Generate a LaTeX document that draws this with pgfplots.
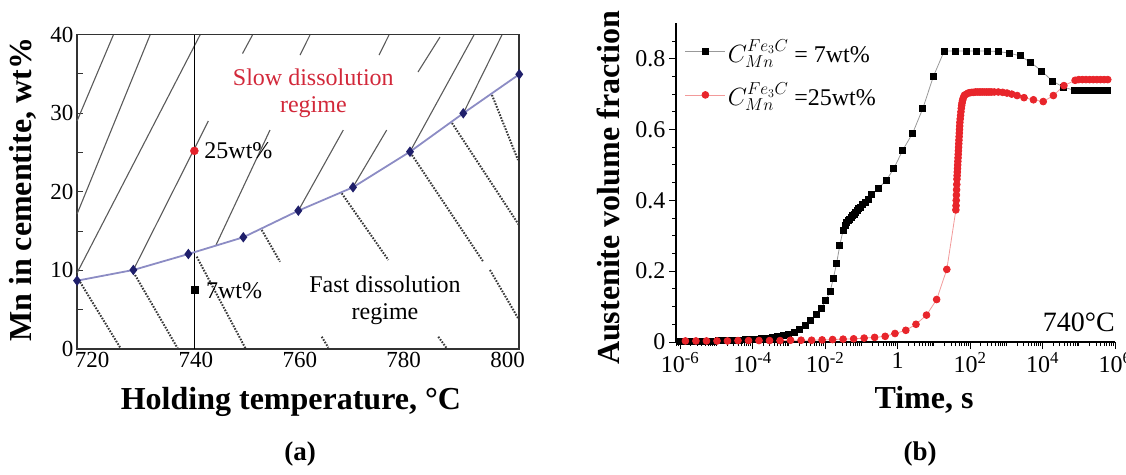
\documentclass[border=0pt]{standalone}
\usepackage{fontspec}
\setmainfont{Liberation Serif}
\usepackage{pgfplots}
\pgfplotsset{compat=1.18}
\definecolor{curvecol}{HTML}{8C8CC4}
\definecolor{diamcol}{HTML}{1F1F6B}
\definecolor{slowred}{HTML}{D2283A}
\definecolor{ptred}{HTML}{E3222B}
\definecolor{hatchc}{HTML}{5A5A5A}
\definecolor{dotc}{HTML}{383838}
\definecolor{mred}{HTML}{E8252B}
\definecolor{lred}{HTML}{F29A9A}
\pgfplotsset{
 hs/.style={hatchc, line width=1.1pt, no marks},
 hd/.style={dotc, line width=2pt, dash pattern=on 1.6pt off 1.4pt, no marks},
}
\begin{document}
\begin{tikzpicture}
\path[use as bounding box] (0,0) rectangle (1126pt,474pt);
% ---------------- panel (a) ----------------
\begin{axis}[
 at={(77pt,125pt)}, anchor=south west, width=442pt, height=314.5pt, scale only axis,
 xmin=717.1, xmax=802.2, ymin=0, ymax=40,
 xtick={720,740,760,780,800}, ytick={0,10,20,30,40}, minor ytick={5,15,25,35},
 ytick pos=left, xtick pos=bottom, tick align=inside,
 major tick length=6pt, minor tick length=6pt,
 x tick style={draw=none},
 y tick style={line width=1pt, color=black!80},
 axis line style={line width=1.6pt, color=black!80},
 ticklabel style={font=\fontsize{23}{25}\selectfont},
 /pgf/number format/assume math mode=true,
 xlabel={Holding temperature, °C}, ylabel={Mn in cementite, wt\%},
 label style={font=\fontsize{32}{36}\selectfont\bfseries},
 xlabel style={at={(axis description cs:0.484,-0.168)}, anchor=center},
 ylabel style={at={(axis description cs:-0.122,0.506)}, anchor=center},
 clip=false,
]
% solid hatch (slow regime)
\addplot[hs] coordinates {(724.10,39.94)(717.11,29.0)};
\addplot[hs] coordinates {(731.17,39.94)(717.11,17.17)};
\addplot[hs] coordinates {(740.79,39.94)(717.11,9.67)};
\addplot[hs] coordinates {(727.95,10.05)(742.39,29.0)};
\addplot[hs] coordinates {(743.87,13.23)(754.26,27.85)};
\addplot[hs] coordinates {(759.71,17.59)(768.37,27.85)};
\addplot[hs] coordinates {(770.24,20.60)(776.73,27.85)};
\addplot[hs] coordinates {(781.21,25.09)(793.53,39.94)};
\addplot[hs] coordinates {(791.47,29.98)(798.92,39.94)};
\addplot[hs] coordinates {(750.89,39.94)(748.97,37.58)};
\addplot[hs] coordinates {(761.96,39.94)(760.04,37.39)};
\addplot[hs] coordinates {(777.17,39.94)(775.25,37.39)};
\addplot[hs] coordinates {(786.99,39.68)(782.75,35.23)};
% dotted hatch (fast regime)
\addplot[hd] coordinates {(717.69,8.52)(725.58,0)};
\addplot[hd] coordinates {(728.28,9.41)(736.55,0)};
\addplot[hd] coordinates {(740.15,11.74)(749.6,0)};
\addplot[hd] coordinates {(752.67,15.14)(756.19,11.10)};
\addplot[hd] coordinates {(768.07,19.80)(777.04,11.32)};
\addplot[hd] coordinates {(781.60,24.67)(795.32,11.10)};
\addplot[hd] coordinates {(789.30,28.74)(802.19,15.77)};
\addplot[hd] coordinates {(797.00,32.31)(802.0,24.04)};
\addplot[hd] coordinates {(796.61,10.05)(802.0,3.94)};
\addplot[hd] coordinates {(764.22,1.56)(765.49,0.17)};
\addplot[hd] coordinates {(786.66,1.56)(788.28,0.09)};
% 740 line
\addplot[black, line width=0.9pt, no marks] coordinates {(739.7,0)(739.7,40)};
% boundary curve
\addplot[curvecol, line width=1.8pt, mark=diamond*, mark size=3.8pt, mark options={diamcol, fill=diamcol}]
 coordinates {(717.11,8.69)(727.95,10.05)(738.54,12.08)(749.12,14.21)(759.71,17.59)(770.24,20.57)(781.21,25.09)(791.47,29.98)(802.25,34.94)};
\addplot[only marks, mark=*, mark size=4pt, ptred] coordinates {(739.7,25.2)};
\addplot[only marks, mark=square*, mark size=3.5pt, black] coordinates {(739.8,7.5)};
\node[anchor=west, inner sep=0pt, font=\fontsize{24}{26}\selectfont] at (axis cs:741.6,25.2) {25wt\%};
\node[anchor=west, inner sep=0pt, font=\fontsize{24}{26}\selectfont] at (axis cs:741.9,7.4) {7wt\%};
\node[align=center, text=slowred, font=\fontsize{24}{26.7}\selectfont] at (axis cs:762.6,32.5) {Slow dissolution\\regime};
\node[align=center, font=\fontsize{24}{26.7}\selectfont] at (axis cs:776.4,6.2) {Fast dissolution\\regime};
\end{axis}
% ---------------- panel (b) ----------------
\begin{axis}[
 at={(676pt,132pt)}, anchor=south west, width=439pt, height=318.7pt, scale only axis,
 xmode=log, xmin=7.76e-7, xmax=1e6, ymin=0, ymax=0.9,
 axis lines=left, axis line style={-, line width=1.3pt},
 xtick={1e-6,1e-4,1e-2,1,1e2,1e4,1e6},
 xticklabels={10\textsuperscript{-6},10\textsuperscript{-4},10\textsuperscript{-2},1,10\textsuperscript{2},10\textsuperscript{4},10\textsuperscript{6}},
 minor xtick={8e-7,9e-7,2e-6,3e-6,4e-6,5e-6,6e-6,7e-6,8e-6,9e-6,1e-5,2e-5,3e-5,4e-5,5e-5,6e-5,7e-5,8e-5,9e-5,2e-4,3e-4,4e-4,5e-4,6e-4,7e-4,8e-4,9e-4,1e-3,2e-3,3e-3,4e-3,5e-3,6e-3,7e-3,8e-3,9e-3,2e-2,3e-2,4e-2,5e-2,6e-2,7e-2,8e-2,9e-2,0.1,0.2,0.3,0.4,0.5,0.6,0.7,0.8,0.9,2,3,4,5,6,7,8,9,10,20,30,40,50,60,70,80,90,200,300,400,500,600,700,800,900,1000,2000,3000,4000,5000,6000,7000,8000,9000,2e4,3e4,4e4,5e4,6e4,7e4,8e4,9e4,1e5,2e5,3e5,4e5,5e5,6e5,7e5,8e5,9e5},
 ytick={0,0.2,0.4,0.6,0.8}, yticklabels={0,0.2,0.4,0.6,0.8},
 minor ytick={0.05,0.1,0.15,0.25,0.3,0.35,0.45,0.5,0.55,0.65,0.7,0.75,0.85},
 tick align=outside, major tick length=7pt, minor tick length=4pt,
 tick style={line width=1pt, black},
 ticklabel style={font=\fontsize{24}{26}\selectfont},
 xlabel={Time, s}, ylabel={Austenite volume fraction},
 label style={font=\fontsize{32}{36}\selectfont\bfseries},
 xlabel style={at={(axis description cs:0.565,-0.182)}, anchor=center},
 ylabel style={at={(axis description cs:-0.1535,0.483)}, anchor=center},
 clip=false,
 legend style={at={(axis description cs:0.02,0.957)}, anchor=north west, draw=none, fill=none,
   font=\fontsize{24}{28}\selectfont, inner sep=0pt, row sep=15pt, cells={anchor=west}},
 legend image code/.code={\draw[mark repeat=2,mark phase=2,#1] plot coordinates {(0pt,0pt)(20pt,0pt)(40pt,0pt)};},
]
\addplot[color=gray!80, line width=0.8pt, mark=square*, mark size=3pt, mark options={black, fill=black}] coordinates {
(1e-6,0.002)(1.41e-6,0.002)(2e-6,0.002)(2.82e-6,0.003)(3.98e-6,0.003)(5.62e-6,0.003)(7.94e-6,0.003)(1.12e-5,0.004)(1.58e-5,0.004)(2.24e-5,0.004)(3.16e-5,0.005)(4.47e-5,0.005)(6.31e-5,0.006)(8.91e-5,0.007)(1.26e-4,0.008)(1.78e-4,0.009)(2.51e-4,0.011)(3.55e-4,0.013)(5.01e-4,0.015)(7.08e-4,0.018)(1e-3,0.022)(1.41e-3,0.028)(2e-3,0.036)(2.82e-3,0.046)(3.98e-3,0.06)(5.62e-3,0.077)(7.94e-3,0.096)(1.05e-2,0.118)(1.38e-2,0.142)(1.70e-2,0.18)(2.09e-2,0.222)(2.57e-2,0.274)(3.16e-2,0.316)(3.63e-2,0.33)(3.98e-2,0.337)(4.37e-2,0.342)(4.79e-2,0.347)(5.25e-2,0.352)(5.75e-2,0.357)(6.31e-2,0.361)(6.92e-2,0.366)(7.59e-2,0.371)(8.51e-2,0.376)(9.55e-2,0.381)(0.1096,0.388)(0.1288,0.395)(0.1549,0.404)(0.1905,0.416)(0.302,0.435)(0.479,0.455)(0.794,0.49)(1.38,0.541)(2.63,0.59)(5.012,0.66)(9.772,0.75)(19.5,0.822)(38.9,0.822)(77.62,0.822)(151.4,0.822)(302,0.822)(602.6,0.82)(1202,0.816)(2399,0.808)(4677,0.79)(9550,0.765)(18621,0.737)(37154,0.72)(74131,0.711)(1e5,0.711)(1.26e5,0.711)(1.58e5,0.711)(2e5,0.711)(2.51e5,0.711)(3.16e5,0.711)(3.98e5,0.711)(5.01e5,0.711)(6.31e5,0.711)};
\addlegendentry{$C^{Fe_3C}_{Mn}$ = 7wt\%}
\addplot[color=lred, line width=0.8pt, mark=*, mark size=3.4pt, mark options={mred, fill=mred}] coordinates {
(1.41e-6,0.003)(2.75e-6,0.003)(5.37e-6,0.003)(1.05e-5,0.003)(2.04e-5,0.003)(3.98e-5,0.004)(7.76e-5,0.004)(1.51e-4,0.004)(2.95e-4,0.004)(5.75e-4,0.004)(1.12e-3,0.005)(2.19e-3,0.005)(4.27e-3,0.005)(8.32e-3,0.006)(1.62e-2,0.007)(3.16e-2,0.008)(6.17e-2,0.009)(0.120,0.011)(0.234,0.013)(0.457,0.016)(0.851,0.024)(1.698,0.033)(3.236,0.05)(6.31,0.076)(12.02,0.12)(22.91,0.205)(40.74,0.373)(41.2,0.385)(41.69,0.40)(42.17,0.415)(42.66,0.43)(43.15,0.445)(43.65,0.46)(44.16,0.47)(44.67,0.48)(45.19,0.49)(45.71,0.50)(46.24,0.51)(46.77,0.52)(47.32,0.53)(47.86,0.54)(48.42,0.55)(48.98,0.56)(49.55,0.57)(50.12,0.58)(50.7,0.59)(51.29,0.60)(51.88,0.61)(52.48,0.62)(53.7,0.63)(54.95,0.64)(56.23,0.65)(57.54,0.66)(58.88,0.668)(60.26,0.675)(62.37,0.682)(64.57,0.688)(67.61,0.693)(70.79,0.697)(79.43,0.700)(89.13,0.703)(100,0.704)(112.2,0.705)(125.9,0.705)(141.3,0.706)(158.5,0.706)(177.8,0.706)(199.5,0.706)(223.9,0.706)(251.2,0.706)(281.8,0.706)(316.2,0.706)(354.8,0.706)(398.1,0.706)(467.7,0.706)(602.6,0.706)(794.3,0.705)(1047,0.703)(1413,0.700)(1995,0.696)(3090,0.690)(5623,0.684)(10471,0.679)(19953,0.696)(38905,0.724)(79433,0.739)(1e5,0.741)(1.26e5,0.741)(1.58e5,0.741)(2e5,0.741)(2.51e5,0.741)(3.16e5,0.741)(3.98e5,0.741)(5.01e5,0.741)(6.31e5,0.741)};
\addlegendentry{$C^{Fe_3C}_{Mn}$ =25wt\%}
\node[anchor=base east, inner sep=0pt, font=\fontsize{28}{30}\selectfont] at (rel axis cs:1,0.032) {740°C};
\end{axis}
\node[font=\fontsize{27}{29}\selectfont\bfseries] at (300pt,20pt) {(a)};
\node[font=\fontsize{27}{29}\selectfont\bfseries] at (920pt,20pt) {(b)};
\end{tikzpicture}
\end{document}
